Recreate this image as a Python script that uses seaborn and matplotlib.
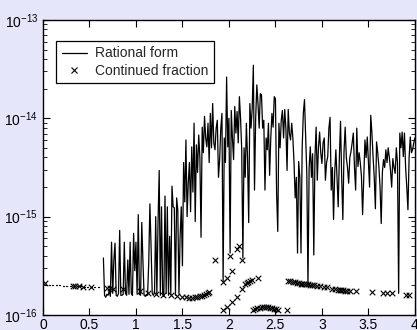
import numpy as np
import pandas as pd
import matplotlib
matplotlib.use("Agg")
import matplotlib.pyplot as plt
import seaborn as sns
from matplotlib.lines import Line2D

nan = np.nan

# Rational form: log10 of the error, sampled every 0.0125 from x = 0 to x = 4
rational_step = 0.0125
rational_log10 = [
    # 0.00 - 0.6375
    nan, nan, -15.70, -15.70, nan, -15.70, -15.70, nan, -15.70, -15.70, nan, -15.70, -15.70,
    nan, -15.70, -15.70, nan, -15.71, -15.71, nan, -15.71, -15.71, nan, -15.71, -15.71, nan,
    -15.71, -15.71, nan, -15.71, -15.71, nan, -15.71, -15.71, nan, -15.72, -15.72, nan,
    -15.72, -15.72, nan, -15.72, -15.72, nan, -15.72, -15.72, nan, -15.72, -15.72, nan,
    -15.72, nan,
    # 0.65 - 1.6375
    -15.42, -15.80, -15.82, -15.79, -15.80, -15.76, -15.81, -15.26,
    -15.78, -15.44, -15.27, -15.80, -15.81, -15.78, -15.14, -15.80,
    -15.80, -15.79, -15.26, -15.78, -15.80, -15.44, -15.79, -15.26,
    -15.78, -15.80, -15.17, -15.55, -15.26, -15.79, -14.98, -15.79,
    -15.80, -15.06, -15.45, -15.80, -15.81, -15.79, -15.80, -15.47,
    -14.87, -15.30, -15.78, -15.80, -15.77, -15.00, -15.79, -15.06,
    -14.53, -15.80, -14.90, -15.79, -15.81, -14.79, -15.78, -14.90,
    -15.80, -15.20, -15.79, -14.69, -14.90, -14.91, -15.80, -14.81,
    -14.93, -15.79, -15.20, -14.90, -15.50, -14.45, -14.85, -14.22,
    -15.00, -14.66, -14.45, -14.95, -14.29, -14.75, -14.05, -15.05,
    # 1.65 - 2.3375
    -14.27, -14.55, -14.17, -14.40, -15.21, -14.09, -14.35, -13.98,
    -14.20, -14.29, -14.05, -14.45, -13.95, -14.30, -13.85, -14.25,
    -14.32, -14.10, -14.02, -14.60, -14.42, -14.10, -13.95, -15.66,
    -14.20, -14.45, -13.58, -14.29, -14.00, -15.37, -13.92, -14.20,
    -14.42, -13.88, -14.15, -13.93, -14.25, -13.78, -14.00, -14.32,
    -15.42, -14.30, -14.60, -14.05, -14.40, -15.06, -13.85, -14.10,
    -13.90, -13.46, -14.73, -14.00, -13.66, -13.85, -14.10, -13.75,
    # 2.35 - 3.0375
    -13.76, -14.10, -14.02, -14.73, -14.20, -14.32, -14.05, -14.58,
    -14.20, -13.95, -14.09, -13.78, -13.80, -14.76, -15.15, -14.05,
    -14.30, -14.02, -13.92, -14.20, -13.91, -14.10, -14.53, -13.91,
    -14.15, -14.22, -14.05, -14.20, -14.45, -14.81, -14.60, -15.37,
    -14.44, -14.60, -15.37, -14.30, -13.95, -13.81, -14.20, -14.56,
    -15.71, -14.50, -14.29, -14.60, -14.36, -15.39, -14.40, -14.09,
    -14.63, -14.30, -14.14, -14.35, -14.46, -14.25, -14.20, -14.63,
    # 3.05 - 4.00
    -14.45, -14.39, -14.10, -13.99, -14.73, -14.50, -15.03, -14.55,
    -14.32, -14.60, -14.90, -14.40, -14.03, -14.60, -15.03, -14.34,
    -14.09, -14.40, -14.50, -14.66, -14.40, -14.34, -14.25, -14.15,
    -14.50, -14.73, -14.10, -14.49, -14.35, -14.45, -14.59, -14.98,
    -14.60, -14.22, -14.40, -14.19, -14.45, -14.70, -13.97, -14.15,
    -14.39, -14.60, -14.92, -14.24, -14.35, -14.49, -14.70, -15.07,
    -14.55, -14.42, -14.50, -14.32, -14.45, -14.30, -14.40, -14.53,
    -14.70, -14.41, -14.50, -14.56, -14.30, -14.45, -15.78, -14.15,
    -14.30, -14.14, -14.39, -14.15, -14.50, -14.70, -14.93, -14.40,
    -14.19, -14.35, -14.32, -14.25, -14.20,
]

# Continued fraction: (x, log10 of the error)
cf_x = [
    0.02, 0.32, 0.35, 0.39, 0.43, 0.52, 0.69, 0.72, 0.75, 0.86, 1.04, 1.13,
    1.22, 1.29, 1.38, 1.44, 1.50, 1.54, 1.57, 1.60, 1.63, 1.66, 1.69, 1.71,
    1.73, 1.75, 1.77, 1.79,
    1.85, 1.94, 1.98, 2.01, 2.03, 2.09, 2.11, 2.14,
    1.94, 1.98, 2.03, 2.09, 2.14, 2.17, 2.19, 2.21, 2.23, 2.25, 2.31,
    2.26, 2.28, 2.30, 2.33, 2.36, 2.38, 2.40, 2.42, 2.44, 2.46, 2.48, 2.51,
    2.53, 2.62,
    2.63, 2.66, 2.69, 2.71, 2.73, 2.75, 2.77, 2.79, 2.81, 2.83, 2.85, 2.87,
    2.89, 2.92, 2.95, 2.98, 3.02, 3.05, 3.11, 3.14, 3.17, 3.19, 3.21, 3.23,
    3.25, 3.27, 3.30, 3.37, 3.54, 3.66, 3.70, 3.75, 3.90, 3.94,
]
cf_log10 = [
    -15.67, -15.71, -15.71, -15.71, -15.72, -15.72, -15.73, -15.73, -15.74, -15.74, -15.76, -15.78,
    -15.79, -15.80, -15.80, -15.81, -15.82, -15.82, -15.83, -15.83, -15.82, -15.82, -15.81, -15.81,
    -15.80, -15.79, -15.78, -15.77,
    -15.44, -15.66, -15.62, -15.40, -15.55, -15.33, -15.30, -15.44,
    -15.95, -15.92, -15.87, -15.82, -15.74, -15.69, -15.67, -15.66, -15.65, -15.64, -15.62,
    -15.95, -15.94, -15.93, -15.93, -15.92, -15.92, -15.92, -15.92, -15.93, -15.93, -15.94, -15.94,
    -15.95, -15.95,
    -15.65, -15.65, -15.66, -15.66, -15.67, -15.67, -15.68, -15.68, -15.68, -15.69, -15.69, -15.70,
    -15.70, -15.70, -15.71, -15.71, -15.72, -15.72, -15.74, -15.74, -15.75, -15.75, -15.75, -15.75,
    -15.76, -15.76, -15.76, -15.76, -15.77, -15.78, -15.78, -15.78, -15.80, -15.80,
]

x_ticks = [0, 0.5, 1, 1.5, 2, 2.5, 3, 3.5, 4]
x_tick_labels = ["0", "0.5", "1", "1.5", "2", "2.5", "3", "3.5", "4"]
series_labels = ["Rational form", "Continued fraction"]

# ---- tables for seaborn -------------------------------------------------
rl = np.array(rational_log10, dtype=float)
rx = np.arange(len(rl)) * rational_step
valid = ~np.isnan(rl)
# contiguous runs of samples become separate line units (gaps where undefined)
run_id = np.cumsum(~valid)
rational = pd.DataFrame({"x": rx[valid], "err": 10.0 ** rl[valid], "run": run_id[valid]})
cfrac = pd.DataFrame({"x": cf_x, "err": 10.0 ** np.array(cf_log10)})

sns.set_style("ticks")
plt.rcParams["font.family"] = ["Liberation Sans", "DejaVu Sans"]
plt.rcParams["mathtext.fontset"] = "custom"
plt.rcParams["mathtext.rm"] = "Liberation Sans"
plt.rcParams["mathtext.it"] = "Liberation Sans:italic"

bg = "#e6e6fa"
fig = plt.figure(figsize=(4.17, 3.30), dpi=100, facecolor=bg)
ax = fig.add_axes([0.103, 0.0455, 0.892, 0.894])
ax.set_facecolor("white")
ax.set_yscale("log")

sns.lineplot(data=rational, x="x", y="err", units="run", estimator=None, sort=False,
             color="black", linewidth=0.9, ax=ax, legend=False)
sns.scatterplot(data=cfrac, x="x", y="err", marker="x", color="black", s=16,
                linewidth=0.8, ax=ax, legend=False)

ax.set_xlim(0, 4)
ax.set_ylim(1e-16, 1e-13)
ax.set_xlabel("")
ax.set_ylabel("")
ax.set_xticks(x_ticks)
ax.set_xticklabels(x_tick_labels)

for s in ax.spines.values():
    s.set_linewidth(1.0)
    s.set_color("black")
ax.tick_params(axis="both", which="major", direction="in", length=5, width=0.8,
               top=True, right=True, labelsize=10, colors="black")
ax.tick_params(axis="y", which="minor", direction="in", length=3, width=0.7,
               left=True, right=True)
ax.tick_params(axis="x", which="major", pad=2)
ax.tick_params(axis="y", which="major", pad=3.5)

handles = [
    Line2D([], [], color="black", linewidth=0.9),
    Line2D([], [], color="black", linestyle="none", marker="x", markersize=4,
           markeredgewidth=0.8),
]
leg = ax.legend(handles, series_labels, loc="upper left", bbox_to_anchor=(0.035, 0.929),
                borderaxespad=0, fancybox=False, framealpha=1, edgecolor="black",
                fontsize=10, handlelength=1.8, handletextpad=0.6, borderpad=0.4,
                labelspacing=0.25)
leg.get_frame().set_linewidth(0.9)

fig.savefig("out.png", dpi=100, facecolor=bg)
